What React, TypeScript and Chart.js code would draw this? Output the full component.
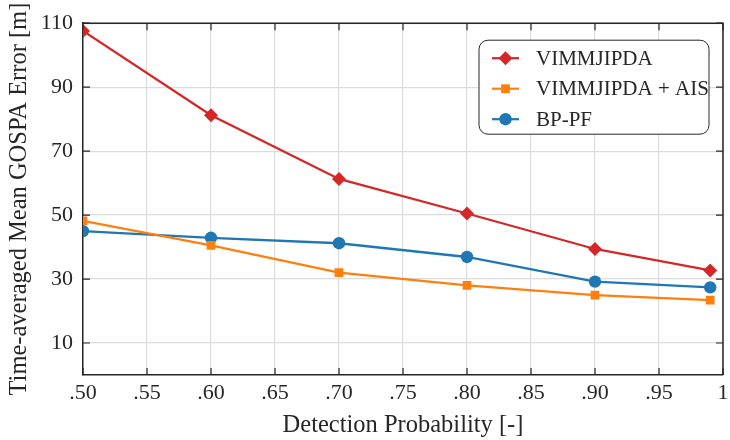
import React, { useEffect, useRef } from 'react';
import { Chart, registerables } from 'chart.js';

Chart.register(...registerables);

// Detection probabilities at which each tracker was evaluated
const detectionProb = [0.5, 0.6, 0.7, 0.8, 0.9, 0.99];

// Time-averaged mean GOSPA error [m] per tracker
const vimmjipda = [107.6, 81.2, 61.3, 50.5, 39.4, 32.7];
const vimmjipdaAis = [48.2, 40.5, 32.0, 28.0, 25.0, 23.4];
const bpPf = [45.0, 42.9, 41.2, 36.9, 29.2, 27.4];

const seriesNames = ['VIMMJIPDA', 'VIMMJIPDA + AIS', 'BP-PF'];
const seriesColors = ['#d62728', '#ff7f0e', '#1f77b4'];
const seriesMarkers = ['rectRot', 'rect', 'circle'];
const seriesRadius = [7, 6.2, 6.2];

const xTicks = [0.5, 0.55, 0.6, 0.65, 0.7, 0.75, 0.8, 0.85, 0.9, 0.95, 1];
const yTicks = [10, 30, 50, 70, 90, 110];

const FONT = "'Liberation Serif', 'Times New Roman', serif";
const AXIS = '#262626';
const GRID = '#dcdcdc';

const formatX = (v: number) => (Math.abs(v - 1) < 1e-9 ? '1' : '.' + Math.round(v * 100).toString());

function drawMarker(ctx: CanvasRenderingContext2D, style: string, x: number, y: number, r: number, color: string) {
  ctx.save();
  ctx.fillStyle = color;
  ctx.beginPath();
  if (style === 'rectRot') {
    ctx.moveTo(x, y - r);
    ctx.lineTo(x + r, y);
    ctx.lineTo(x, y + r);
    ctx.lineTo(x - r, y);
    ctx.closePath();
  } else if (style === 'rect') {
    const s = r * Math.SQRT1_2;
    ctx.rect(x - s, y - s, 2 * s, 2 * s);
  } else {
    ctx.arc(x, y, r, 0, Math.PI * 2);
  }
  ctx.fill();
  ctx.restore();
}

// Inward tick marks on all four sides plus the top/right box edges
const boxPlugin = {
  id: 'boxTicks',
  afterDatasetsDraw(chart: any) {
    const { ctx, chartArea: a, scales } = chart;
    const len = 7;
    ctx.save();
    ctx.strokeStyle = AXIS;
    ctx.lineWidth = 1.2;
    ctx.beginPath();
    xTicks.forEach((v) => {
      const px = scales.x.getPixelForValue(v);
      ctx.moveTo(px, a.bottom);
      ctx.lineTo(px, a.bottom - len);
      ctx.moveTo(px, a.top);
      ctx.lineTo(px, a.top + len);
    });
    yTicks.forEach((v) => {
      const py = scales.y.getPixelForValue(v);
      ctx.moveTo(a.left, py);
      ctx.lineTo(a.left + len, py);
      ctx.moveTo(a.right, py);
      ctx.lineTo(a.right - len, py);
    });
    ctx.stroke();
    ctx.lineWidth = 1.5;
    ctx.beginPath();
    ctx.moveTo(a.left, a.top);
    ctx.lineTo(a.right, a.top);
    ctx.lineTo(a.right, a.bottom);
    ctx.stroke();
    ctx.restore();
  },
};

// Legend box in the upper right with line-through-marker keys
const legendPlugin = {
  id: 'boxLegend',
  afterDraw(chart: any) {
    const { ctx, chartArea: a } = chart;
    const w = 230;
    const h = 94;
    const left = a.right - 244;
    const top = a.top + 17;
    ctx.save();
    ctx.beginPath();
    (ctx as any).roundRect(left, top, w, h, 9);
    ctx.fillStyle = '#ffffff';
    ctx.fill();
    ctx.strokeStyle = AXIS;
    ctx.lineWidth = 1;
    ctx.stroke();
    chart.data.datasets.forEach((ds: any, i: number) => {
      const y = top + 18 + i * 30.5;
      ctx.strokeStyle = ds.borderColor;
      ctx.lineWidth = 2.2;
      ctx.beginPath();
      ctx.moveTo(left + 13, y);
      ctx.lineTo(left + 40, y);
      ctx.stroke();
      drawMarker(ctx, ds.pointStyle, left + 26.5, y, ds.pointRadius, ds.borderColor);
      ctx.fillStyle = AXIS;
      ctx.font = `21px ${FONT}`;
      ctx.textBaseline = 'middle';
      ctx.textAlign = 'left';
      ctx.fillText(ds.label, left + 57, y + 1);
    });
    ctx.restore();
  },
};

export default function App() {
  const ref = useRef<HTMLCanvasElement | null>(null);

  useEffect(() => {
    if (!ref.current) return;
    const series = [vimmjipda, vimmjipdaAis, bpPf];
    const chart = new Chart(ref.current, {
      type: 'line',
      data: {
        datasets: series.map((vals, i) => ({
          label: seriesNames[i],
          data: detectionProb.map((p, j) => ({ x: p, y: vals[j] })),
          borderColor: seriesColors[i],
          backgroundColor: seriesColors[i],
          pointBackgroundColor: seriesColors[i],
          pointBorderWidth: 0,
          pointStyle: seriesMarkers[i] as any,
          pointRadius: seriesRadius[i],
          borderWidth: 2.3,
          tension: 0,
          fill: false,
        })),
      },
      options: {
        animation: false,
        responsive: false,
        layout: { padding: { top: 17, right: 7, left: 0, bottom: 0 } },
        plugins: {
          legend: { display: false },
          tooltip: { enabled: false },
        },
        scales: {
          x: {
            type: 'linear',
            min: 0.5,
            max: 1,
            afterBuildTicks: (scale: any) => {
              scale.ticks = xTicks.map((v) => ({ value: v }));
            },
            afterFit: (scale: any) => {
              scale.height = 65;
              scale.paddingRight = 0;
            },
            grid: { color: GRID, lineWidth: 1.2, drawTicks: false },
            border: { color: AXIS, width: 1.5 },
            ticks: {
              color: AXIS,
              font: { family: FONT, size: 22 },
              padding: 5,
              maxRotation: 0,
              autoSkip: false,
              callback: (v: any) => formatX(Number(v)),
            },
            title: {
              display: true,
              text: 'Detection Probability [-]',
              color: AXIS,
              font: { family: FONT, size: 24.5 },
              padding: { top: 0, bottom: 0 },
            },
          },
          y: {
            type: 'linear',
            min: 0,
            max: 110,
            afterBuildTicks: (scale: any) => {
              scale.ticks = yTicks.map((v) => ({ value: v }));
            },
            afterFit: (scale: any) => {
              scale.width = 83;
            },
            grid: { color: GRID, lineWidth: 1.2, drawTicks: false },
            border: { color: AXIS, width: 1.5 },
            ticks: {
              color: AXIS,
              font: { family: FONT, size: 22 },
              padding: 10,
              autoSkip: false,
            },
            title: {
              display: true,
              text: 'Time-averaged Mean GOSPA Error [m]',
              color: AXIS,
              font: { family: FONT, size: 24.5 },
              padding: { top: 5, bottom: 0 },
            },
          },
        },
      },
      plugins: [boxPlugin, legendPlugin],
    });
    return () => chart.destroy();
  }, []);

  return (
    <div style={{ position: 'absolute', left: 0, top: 0, width: 730, height: 440, background: '#ffffff' }}>
      <canvas ref={ref} width={730} height={440} />
    </div>
  );
}
